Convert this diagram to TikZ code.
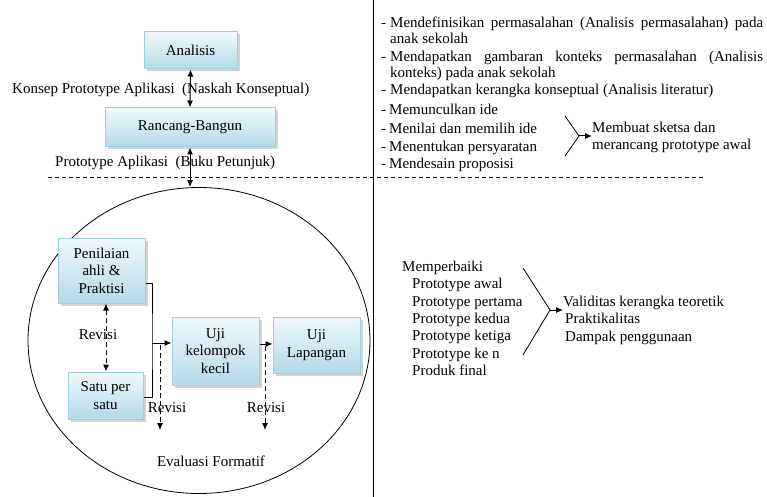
\documentclass[tikz,border=0pt]{standalone}
\usepackage{fontspec}
\setmainfont{Liberation Serif}
\definecolor{StageTop}{HTML}{F0F9FC}
\definecolor{StageBottom}{HTML}{B3DAE6}
\definecolor{StageEdge}{HTML}{9CD0E0}
\usetikzlibrary{arrows.meta,positioning,shadows,shapes.geometric}

\tikzset{
  stagebox/.style={
    draw=StageEdge,
    line width=1pt,
    top color=StageTop,
    bottom color=StageBottom,
    drop shadow={opacity=0.35, shadow xshift=2.5pt, shadow yshift=-2.5pt},
    align=center,
    inner sep=0pt,
    font=\fontsize{15}{17.5}\selectfont
  },
  plaintext/.style={inner sep=0pt, anchor=base west, font=\fontsize{15}{17.3}\selectfont},
  flow/.style={line width=1pt, -{Latex[length=7pt,width=6pt]}},
  twoway/.style={line width=1pt, {Latex[length=7pt,width=6pt]}-{Latex[length=7pt,width=6pt]}},
  revisi/.style={line width=1pt, dashed, dash pattern=on 5pt off 3pt}
}

\begin{document}
\begin{tikzpicture}[x=1pt, y=-1pt]
  \useasboundingbox (0,0) rectangle (767,497);

  % left: stages
  \node[stagebox, minimum width=93pt, minimum height=37pt] (analisis) at (190.5,50.5) {Analisis};
  \node[stagebox, minimum width=170pt, minimum height=39pt] (rancang) at (190,127.5) {Rancang-Bangun};
  \node[plaintext] (konsep) at (12,94) {Konsep Prototype Aplikasi\ \ (Naskah Konseptual)};
  \node[plaintext] (buku) at (55,166) {Prototype Aplikasi\ \ (Buku Petunjuk)};

  \node[ellipse, draw, line width=0.8pt, minimum width=342pt, minimum height=306pt, inner sep=0pt] (formatif) at (199,340.5) {};

  \draw[twoway] (analisis.south) -- (rancang.north);
  \draw[twoway] (rancang.south) -- (rancang.south |- formatif.north);

  % separators
  \coordinate (dashL) at (48,177);
  \coordinate (dashR) at (703,177);
  \draw[dashed, dash pattern=on 4pt off 3pt, line width=0.7pt] (dashL) -- (dashR);
  \coordinate (colTop) at (373,0);
  \coordinate (colBot) at (373,497);
  \draw[line width=1pt] (colTop) -- (colBot);

  % formative evaluation
  \node[stagebox, minimum width=87pt, minimum height=65pt] (ahli) at (101.5,270.5) {Penilaian\\ahli \&\\Praktisi};
  \node[stagebox, minimum width=75pt, minimum height=47pt] (satu) at (105.5,395.5) {Satu per\\satu};
  \node[stagebox, minimum width=87pt, minimum height=68pt] (kecil) at (215.5,351) {Uji\\kelompok\\kecil};
  \node[stagebox, minimum width=87pt, minimum height=56pt] (lapangan) at (316.5,345) {Uji\\Lapangan};

  \coordinate (join) at (152,343);
  \draw[line width=1pt] ([yshift=-12.5pt]ahli.east) -| (join) |- ([yshift=-1.5pt]satu.east);
  \draw[flow] (join) -- (join -| kecil.west);
  \draw[flow] ([yshift=7pt]kecil.east) -- ([yshift=7pt]kecil.east -| lapangan.west);

  \draw[revisi, {Latex[length=7pt,width=6pt]}-{Latex[length=7pt,width=6pt]}] ([xshift=4.5pt]ahli.south) -- ([xshift=4.5pt]ahli.south |- satu.north);
  \node[plaintext, anchor=center] (rev0) at (98,335) {Revisi};

  \coordinate (rev1a) at (160,345);
  \coordinate (rev1b) at (160,430);
  \draw[revisi, -{Latex[length=7pt,width=6pt]}] (rev1a) -- (rev1b);
  \node[plaintext, anchor=center] (rev1) at (167,408) {Revisi};
  \coordinate (rev2a) at (265,346);
  \coordinate (rev2b) at (265,430);
  \draw[revisi, -{Latex[length=7pt,width=6pt]}] (rev2a) -- (rev2b);
  \node[plaintext, anchor=center] (rev2) at (266,408) {Revisi};

  \node[plaintext, anchor=center] (evaluasi) at (211,461) {Evaluasi Formatif};

  % right: analysis and design activities
  \foreach \y in {28,62,95,115,133.5,151,168}
    \node[plaintext] at (381,\y) {-};
  \node[plaintext] (def1) at (390,28) {\makebox[373pt][s]{Mendefinisikan permasalahan (Analisis permasalahan) pada}};
  \node[plaintext] (def2) at (390,44) {anak sekolah};
  \node[plaintext] (kon1) at (390,62) {\makebox[373pt][s]{Mendapatkan gambaran konteks permasalahan (Analisis}};
  \node[plaintext] (kon2) at (390,78) {konteks) pada anak sekolah};
  \node[plaintext] (lit) at (390,95) {Mendapatkan kerangka konseptual (Analisis literatur)};
  \node[plaintext] (ide1) at (389,115) {Memunculkan ide};
  \node[plaintext] (ide2) at (389,133.5) {Menilai dan memilih ide};
  \node[plaintext] (syarat) at (389,151) {Menentukan persyaratan};
  \node[plaintext] (desain) at (389,168) {Mendesain proposisi};

  \node[plaintext, anchor=west, align=left] (sketsa) at (592,137.5) {Membuat sketsa dan\\merancang prototype awal};
  \coordinate (gatherA) at (579,136);
  \draw[line width=0.8pt] (565,116) -- (gatherA) -- (565,156);
  \draw[flow] (gatherA) -- (gatherA -| sketsa.west);

  % right: revision
  \node[plaintext, anchor=north west, align=left] (perbaiki) at (402,261) {Memperbaiki\\
    \hspace*{10pt}Prototype awal\\
    \hspace*{10pt}Prototype pertama\\
    \hspace*{10pt}Prototype kedua\\
    \hspace*{10pt}Prototype ketiga\\
    \hspace*{10pt}Prototype ke n\\
    \hspace*{10pt}Produk final};
  \node[plaintext, anchor=north west, align=left] (hasil) at (563,296) {Validitas kerangka teoretik\\
    \hspace*{2pt}Praktikalitas\\
    \hspace*{2pt}Dampak penggunaan};
  \coordinate (gatherB) at (550,310);
  \draw[line width=0.8pt] (523,268) -- (gatherB) -- (523,355);
  \draw[flow] (gatherB) -- (gatherB -| hasil.west);
\end{tikzpicture}
\end{document}
